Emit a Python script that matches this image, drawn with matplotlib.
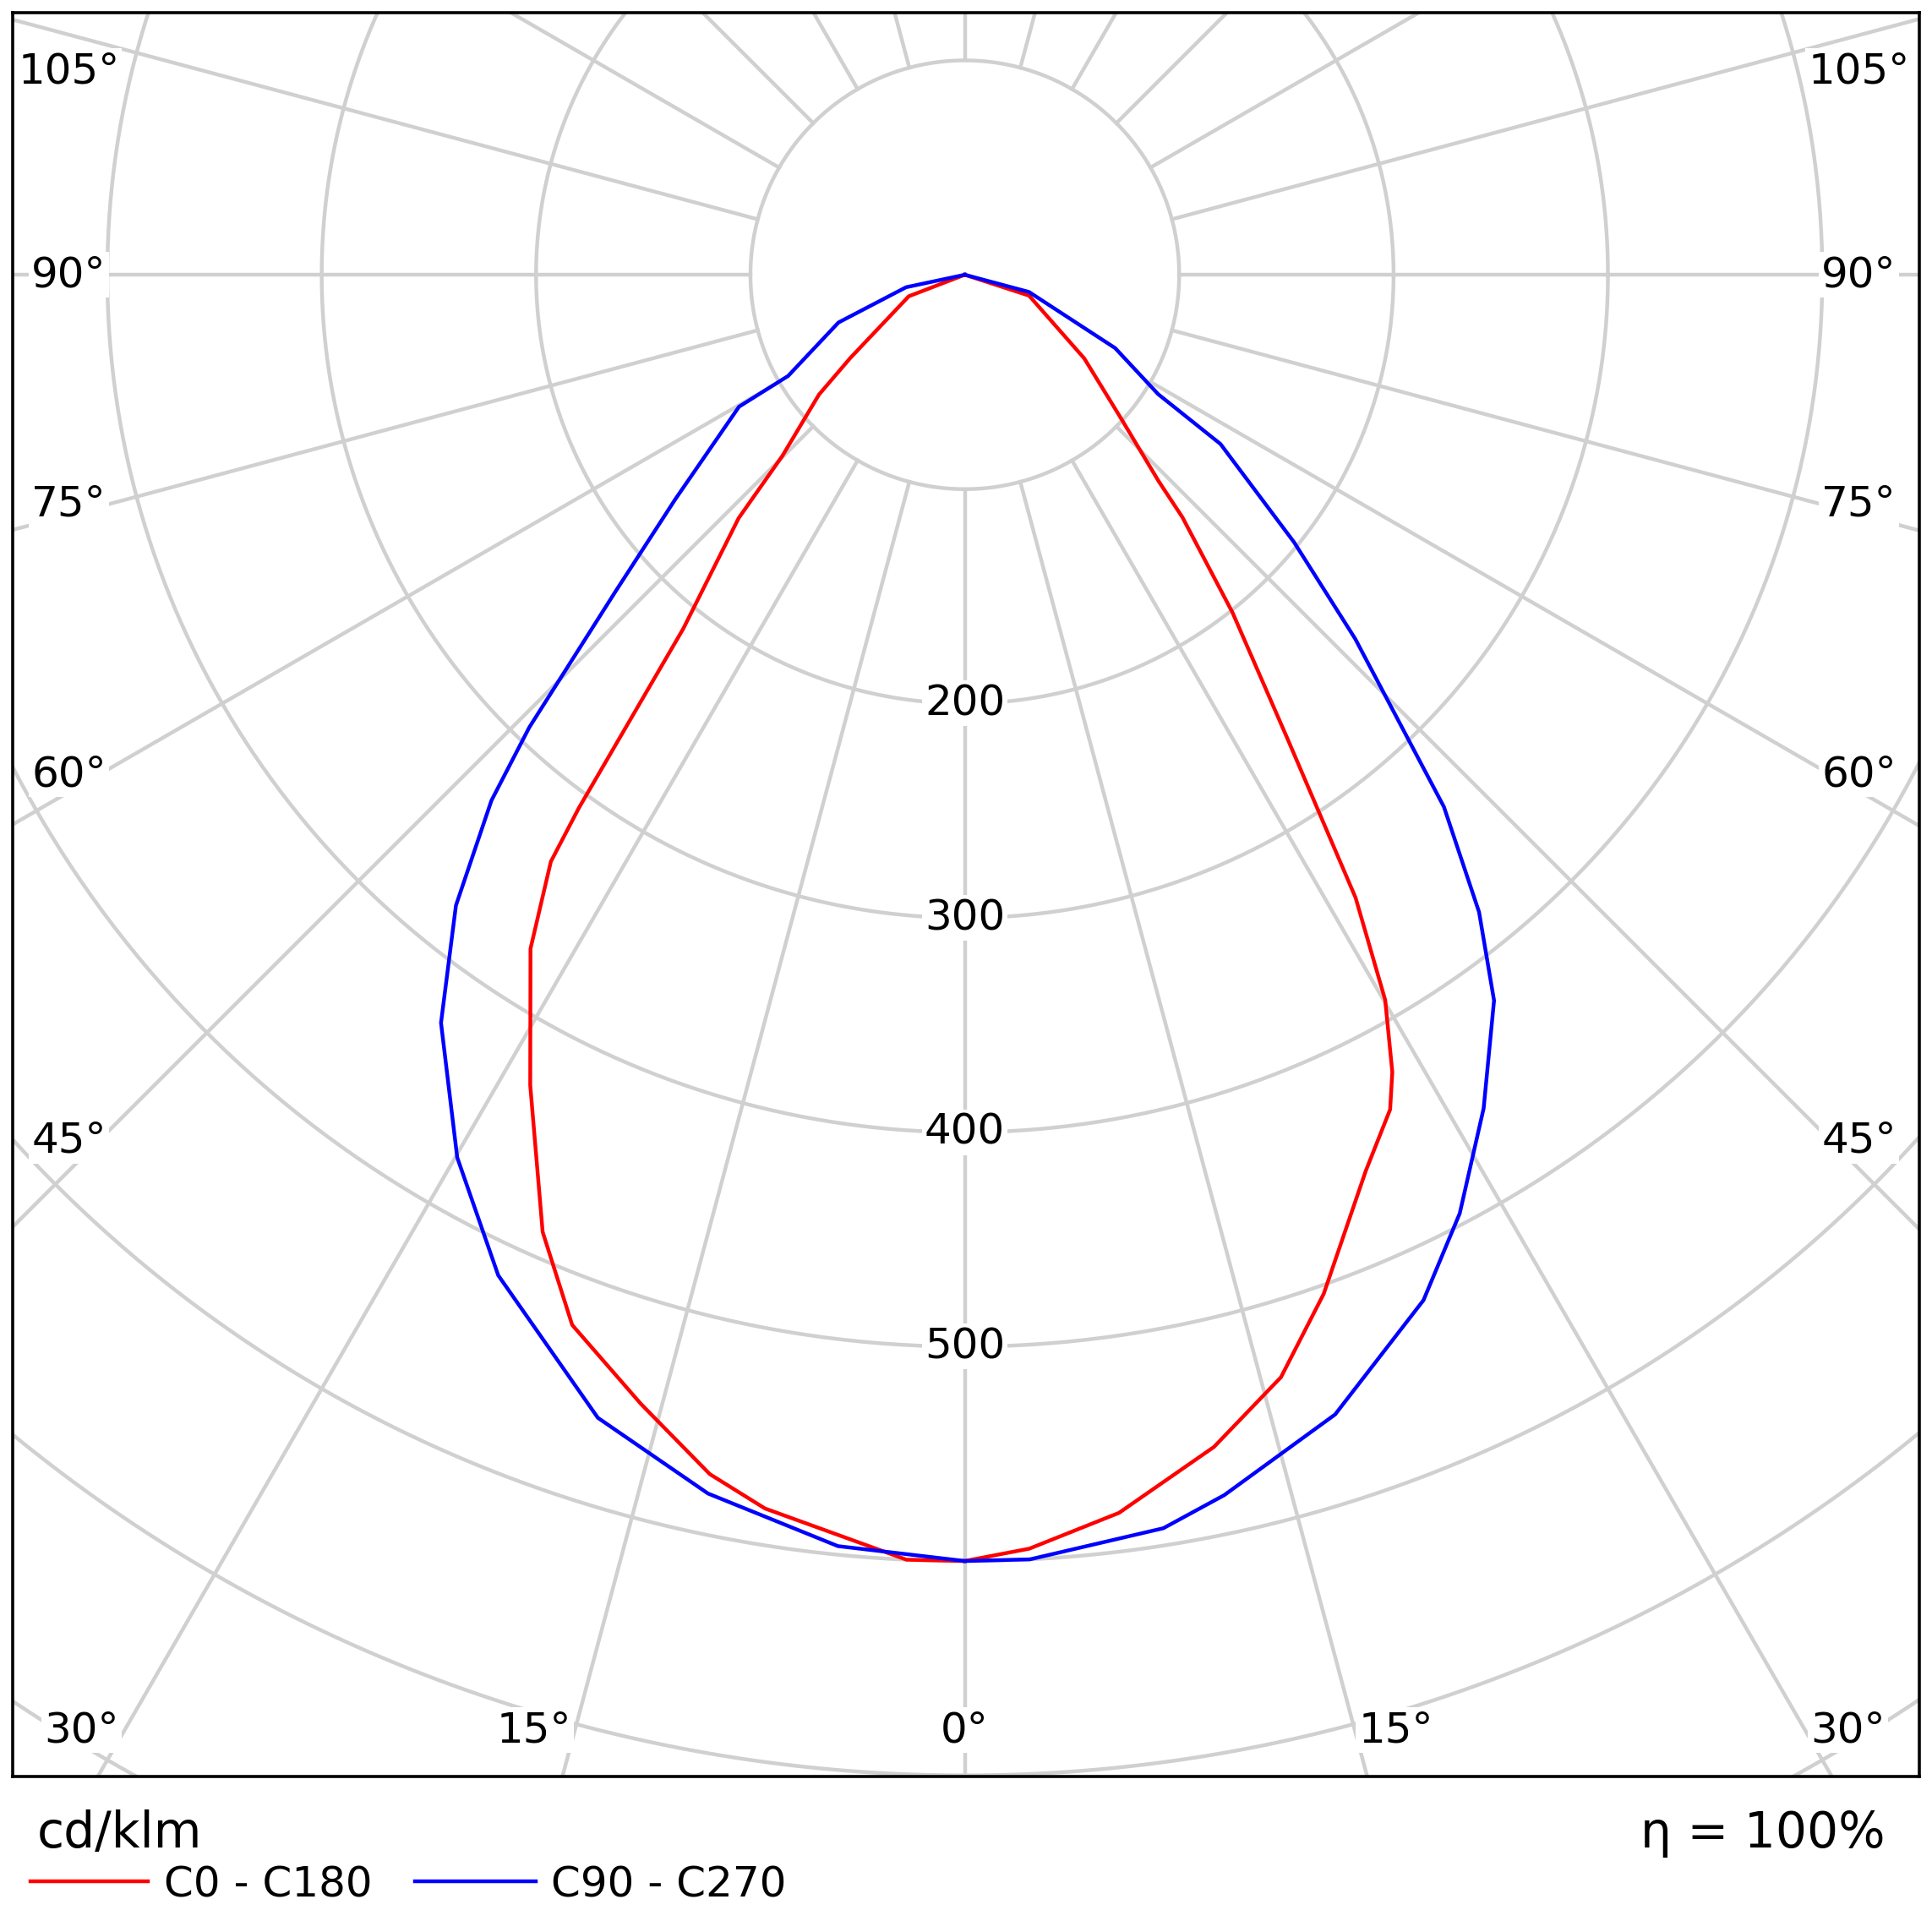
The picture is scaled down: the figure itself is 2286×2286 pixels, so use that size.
import numpy as np
import matplotlib.pyplot as plt

# luminous intensity (cd/klm), gamma in degrees from nadir
c0_gamma = [0, 2.9, 7.1, 12, 16, 19.4, 24.1, 27, 28.2, 30.1, 32.1, 34.8, 38.4, 41.9, 43.2, 47.4, 55, 72, 90]
c0_r = [600, 595, 582, 559, 535, 504, 458, 437, 422, 391, 343, 264, 201, 152, 132, 99, 68, 31.5, 0]
c180_gamma = [0, 2.6, 9.2, 12, 16, 20.5, 23.8, 28.2, 32.8, 35.2, 35.9, 38.5, 42.9, 45.2, 50.6, 54, 69, 90]
c180_r = [600, 600, 583, 572, 548, 523, 488, 429, 374, 335, 307, 211, 155, 120, 88, 66, 28, 0]
c90_gamma = [0, 2.9, 9, 12, 18, 24.1, 27.8, 31.9, 36.1, 38.9, 42, 47, 50.9, 56.5, 58.3, 64, 75, 90]
c90_r = [600, 600, 592, 582, 559, 524, 495, 458, 419, 382, 334, 249, 198, 143, 106, 78, 31, 0]
c270_gamma = [0, 5.7, 11.9, 17.8, 25, 29.9, 35, 38.9, 42, 43.9, 47.8, 52.2, 59.7, 60.2, 69.3, 78, 90]
c270_r = [600, 596, 581, 560, 515, 475, 426, 378, 330, 293, 220, 171, 122, 95, 63, 28, 0]

ring_labels = [200, 300, 400, 500]
GRID = "#d0d0d0"


def to_xy(gamma, r, side):
    g = np.radians(gamma)
    r = np.asarray(r, dtype=float)
    return side * r * np.sin(g), -r * np.cos(g)


fig = plt.figure(figsize=(11.43, 11.43), dpi=200)
ax = fig.add_axes([0.0064, 0.0804, 0.9872, 0.9132])
ax.set_xlim(-444.3, 445.4)
ax.set_ylim(-700.6, 122.4)
ax.set_xticks([])
ax.set_yticks([])
for sp in ax.spines.values():
    sp.set_linewidth(1.3)

# grid rings and spokes
t = np.linspace(0, 2 * np.pi, 721)
for r in range(100, 1001, 100):
    ax.plot(r * np.cos(t), r * np.sin(t), color=GRID, lw=1.6, zorder=1)
for a in range(0, 360, 15):
    g = np.radians(a)
    ax.plot([100 * np.sin(g), 1100 * np.sin(g)], [-100 * np.cos(g), -1100 * np.cos(g)],
            color=GRID, lw=1.6, zorder=1)

fs = 18
for v in ring_labels:
    ax.text(0, -v, str(v), ha="center", va="center", fontsize=fs, zorder=2,
            bbox=dict(facecolor="white", edgecolor="none", pad=1))

side_labels = [(105, 95), (90, 0), (75, -107), (60, -233), (45, -404)]
for lab, y in side_labels:
    for x in (-418, 417):
        ax.text(x, y, f"{lab}°", ha="center", va="center", fontsize=fs, zorder=2,
                bbox=dict(facecolor="white", edgecolor="none", pad=1))
bottom_labels = [(-412, 30), (-201, 15), (0, 0), (201, 15), (412, 30)]
for x, lab in bottom_labels:
    ax.text(x, -679, f"{lab}°", ha="center", va="center", fontsize=fs, zorder=2,
            bbox=dict(facecolor="white", edgecolor="none", pad=1))

# curves
for gam, r, side, col in [(c0_gamma, c0_r, 1, "red"), (c180_gamma, c180_r, -1, "red"),
                          (c90_gamma, c90_r, 1, "blue"), (c270_gamma, c270_r, -1, "blue")]:
    x, y = to_xy(gam, r, side)
    ax.plot(x, y, color=col, lw=1.6, zorder=3)

# footer
fig.text(30 / 1568, 1 - 1488 / 1568, "cd/klm", fontsize=21, va="center", ha="left")
fig.text(1530 / 1568, 1 - 1488 / 1568, "η = 100%", fontsize=21, va="center", ha="right")
fig.add_artist(plt.Line2D([25 / 1568, 120 / 1568], [1 - 1527 / 1568] * 2, color="red", lw=1.6))
fig.text(133 / 1568, 1 - 1530 / 1568, "C0 - C180", fontsize=18, va="center", ha="left")
fig.add_artist(plt.Line2D([337 / 1568, 435 / 1568], [1 - 1527 / 1568] * 2, color="blue", lw=1.6))
fig.text(447 / 1568, 1 - 1530 / 1568, "C90 - C270", fontsize=18, va="center", ha="left")

fig.savefig("out.png", dpi=200)
